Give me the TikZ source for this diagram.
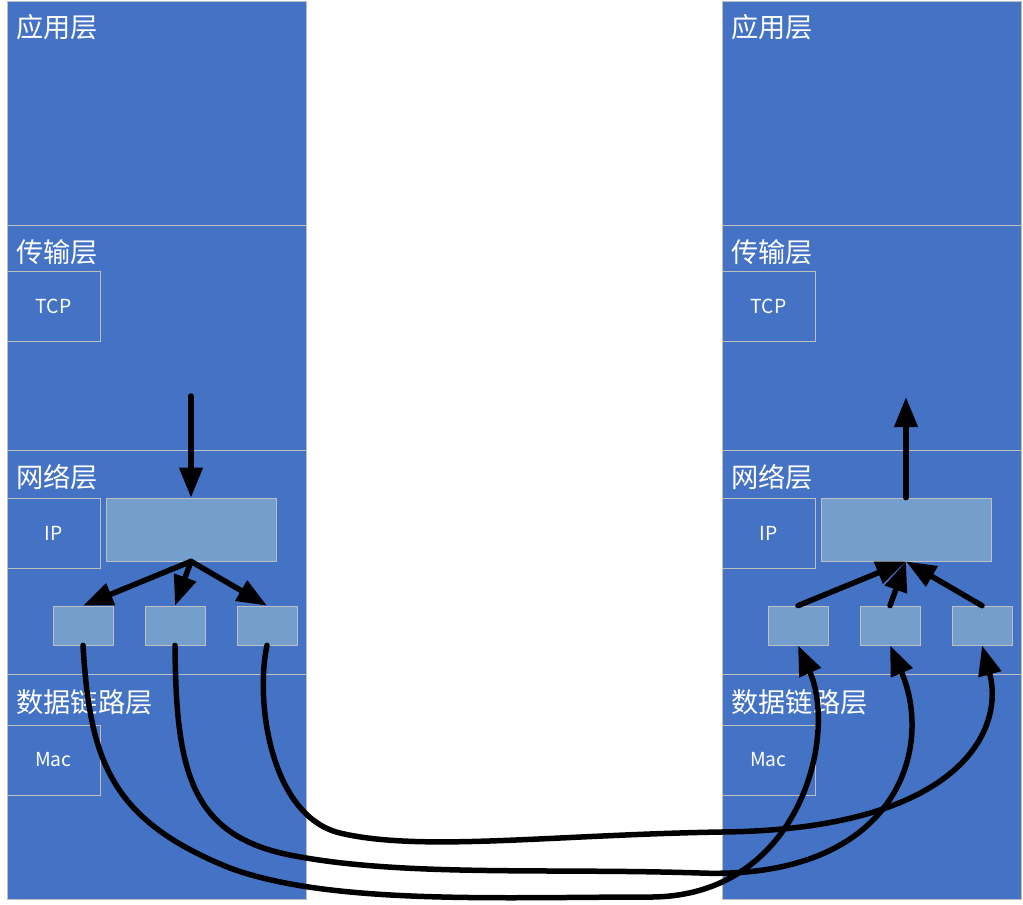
\documentclass[tikz,border=0pt]{standalone}
\usepackage{fontspec}
\setmainfont{Noto Sans CJK SC}
\usetikzlibrary{arrows.meta}
\definecolor{layerblue}{RGB}{68,114,196}
\definecolor{pktblue}{RGB}{116,159,204}
\definecolor{edgegray}{RGB}{191,191,191}

\begin{document}
\begin{tikzpicture}[x=0.02cm, y=-0.02cm]
    % Node styles
    \tikzstyle{layer} = [rectangle, draw=edgegray, fill=layerblue, minimum width=5.98cm, minimum height=4.49cm, inner sep=0pt]
    \tikzstyle{proto} = [rectangle, draw=edgegray, minimum width=1.86cm, minimum height=1.4cm, inner sep=0pt, text=white, font=\fontsize{11}{13}\selectfont]
    \tikzstyle{packet} = [rectangle, draw=edgegray, fill=pktblue, minimum width=3.4cm, minimum height=1.26cm, inner sep=0pt]
    \tikzstyle{frag} = [rectangle, draw=edgegray, fill=pktblue, minimum width=1.2cm, minimum height=0.78cm, inner sep=0pt]
    \tikzstyle{title} = [anchor=west, inner sep=0pt, text=white, font=\fontsize{15.5}{18}\selectfont]
    \tikzstyle{arrow} = [-{Triangle[length=0.6cm,width=0.45cm]}, line width=0.11cm, line cap=round]

    \useasboundingbox (0,0) rectangle (1023,904);

    % Nodes (sender)
    \node (app_l) at (156.5, 113.25) [layer] {};
    \node (trans_l) at (156.5, 337.75) [layer] {};
    \node (net_l) at (156.5, 562.25) [layer] {};
    \node (link_l) at (156.5, 786.75) [layer] {};
    \node (tcp_l) at (53.5, 306) [proto] {TCP};
    \node (ip_l) at (53.5, 533) [proto] {IP};
    \node (mac_l) at (53.5, 760) [proto] {Mac};
    \node (pkt_l) at (191, 529.5) [packet] {};
    \node (frag_l1) at (83, 625.5) [frag] {};
    \node (frag_l2) at (175, 625.5) [frag] {};
    \node (frag_l3) at (267, 625.5) [frag] {};

    % Nodes (receiver)
    \node (app_r) at (871.5, 113.25) [layer] {};
    \node (trans_r) at (871.5, 337.75) [layer] {};
    \node (net_r) at (871.5, 562.25) [layer] {};
    \node (link_r) at (871.5, 786.75) [layer] {};
    \node (tcp_r) at (768.5, 306) [proto] {TCP};
    \node (ip_r) at (768.5, 533) [proto] {IP};
    \node (mac_r) at (768.5, 760) [proto] {Mac};
    \node (pkt_r) at (906, 529.5) [packet] {};
    \node (frag_r1) at (798, 625.5) [frag] {};
    \node (frag_r2) at (890, 625.5) [frag] {};
    \node (frag_r3) at (982, 625.5) [frag] {};

    % Labels
    \node (t_app_l) at (16, 27) [title] {应用层};
    \node (t_trans_l) at (16, 252) [title] {传输层};
    \node (t_net_l) at (16, 477) [title] {网络层};
    \node (t_link_l) at (16, 702) [title] {数据链路层};
    \node (t_app_r) at (731, 27) [title] {应用层};
    \node (t_trans_r) at (731, 252) [title] {传输层};
    \node (t_net_r) at (731, 477) [title] {网络层};
    \node (t_link_r) at (731, 702) [title] {数据链路层};

    \coordinate (down_in) at (191, 396);
    \coordinate (up_out) at (906, 397);

    % Arrows
    \draw[arrow] (down_in) -- (pkt_l.north);
    \draw[arrow] (pkt_l.south) -- (frag_l1.north);
    \draw[arrow] (pkt_l.south) -- (frag_l2.north);
    \draw[arrow] (pkt_l.south) -- (frag_l3.north);
    \draw[arrow] (frag_r1.north) -- (pkt_r.south);
    \draw[arrow] (frag_r2.north) -- (pkt_r.south);
    \draw[arrow] (frag_r3.north) -- (pkt_r.south);
    \draw[arrow] (pkt_r.north) -- (up_out);

    % Links between the two hosts
    \draw[arrow] (frag_l1.south) .. controls (90, 760) and (110, 820) .. (230, 868)
        .. controls (330, 905) and (500, 897) .. (650, 897)
        .. controls (800, 897) and (838, 735) .. (frag_r1.south);
    \draw[arrow] (frag_l2.south) .. controls (176, 770) and (190, 835) .. (290, 855)
        .. controls (400, 877) and (550, 868) .. (700, 873)
        .. controls (895, 880) and (935, 750) .. (frag_r2.south);
    \draw[arrow] (frag_l3.south) .. controls (255, 700) and (270, 816) .. (340, 833)
        .. controls (420, 852) and (550, 835) .. (720, 832)
        .. controls (960, 830) and (1005, 730) .. (frag_r3.south);

\end{tikzpicture}
\end{document}
